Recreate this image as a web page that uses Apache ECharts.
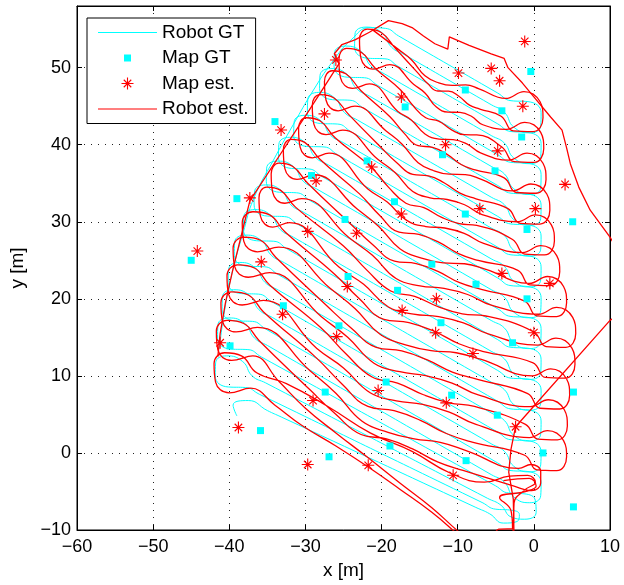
<!DOCTYPE html>
<html><head><meta charset="utf-8">
<script src="https://cdn.jsdelivr.net/npm/echarts@6/dist/echarts.min.js"></script>
<style>html,body{margin:0;padding:0;background:#fff}#c{width:624px;height:585px}</style>
</head><body><div id="c"></div>
<script>
const xTicks = [-60,-50,-40,-30,-20,-10,0,10];
const yTicks = [-10,0,10,20,30,40,50];
const yMax = 58;

const robotGT = [
[-41.3,13.5],[-40.7,18],[-39.6,23.5],[-38.2,28.5],[-36.8,33],[-34.2,38],[-31.6,42.6],[-29,47],[-26.5,50.7],[-24,53.6],[-21.5,55.2],
[-19.5,55.1],[-17.76,54.11],[-4.74,46.7],[-3,45.71],
[-0.77,45.59],[0.95,44.15],[0.9,42.45],[-0.54,41.54],[-2.65,42.29],
[-3.86,44.2],[-5.6,45.19],[-16.96,51.67],[-18.7,52.66],
[-19.94,54.52],[-22.05,55.26],[-23.49,54.35],[-23.54,52.65],[-21.82,51.22],
[-19.56,51.15],[-17.82,50.16],[-4.74,42.7],[-3,41.71],
[-0.77,41.59],[0.95,40.15],[0.9,38.45],[-0.54,37.54],[-2.65,38.29],
[-3.86,40.2],[-5.6,41.19],[-19.66,49.21],[-21.4,50.2],
[-22.64,52.06],[-24.75,52.8],[-26.19,51.89],[-26.24,50.19],[-24.52,48.76],
[-22.26,48.69],[-20.52,47.7],[-4.74,38.7],[-3,37.71],
[-0.77,37.59],[0.95,36.15],[0.9,34.45],[-0.54,33.54],[-2.65,34.29],
[-3.86,36.2],[-5.6,37.19],[-21.56,46.29],[-23.3,47.28],
[-24.54,49.14],[-26.65,49.88],[-28.09,48.97],[-28.14,47.27],[-26.42,45.84],
[-24.16,45.77],[-22.42,44.78],[-4.74,34.7],[-3,33.71],
[-0.77,33.59],[0.95,32.15],[0.9,30.45],[-0.54,29.54],[-2.65,30.29],
[-3.86,32.2],[-5.6,33.19],[-23.16,43.2],[-24.9,44.19],
[-26.14,46.05],[-28.25,46.79],[-29.69,45.88],[-29.74,44.18],[-28.02,42.75],
[-25.76,42.68],[-24.02,41.69],[-4.74,30.7],[-3,29.71],
[-0.77,29.59],[0.95,28.15],[0.9,26.45],[-0.54,25.54],[-2.65,26.29],
[-3.86,28.2],[-5.6,29.19],[-24.96,40.23],[-26.7,41.22],
[-27.94,43.08],[-30.05,43.82],[-31.49,42.91],[-31.54,41.21],[-29.82,39.78],
[-27.56,39.71],[-25.82,38.72],[-4.74,26.7],[-3,25.71],
[-0.77,25.59],[0.95,24.15],[0.9,22.45],[-0.54,21.54],[-2.65,22.29],
[-3.86,24.2],[-5.6,25.19],[-26.96,37.37],[-28.7,38.36],
[-29.94,40.22],[-32.05,40.96],[-33.49,40.05],[-33.54,38.35],[-31.82,36.92],
[-29.56,36.85],[-27.82,35.86],[-4.74,22.7],[-3,21.71],
[-0.77,21.59],[0.95,20.15],[0.9,18.45],[-0.54,17.54],[-2.65,18.29],
[-3.86,20.2],[-5.6,21.19],[-28.56,34.28],[-30.3,35.27],
[-31.54,37.13],[-33.65,37.87],[-35.09,36.96],[-35.14,35.26],[-33.42,33.83],
[-31.16,33.76],[-29.42,32.77],[-4.74,18.7],[-3,17.71],
[-0.77,17.59],[0.95,16.15],[0.9,14.45],[-0.54,13.54],[-2.65,14.29],
[-3.86,16.2],[-5.6,17.19],[-30.16,31.19],[-31.9,32.18],
[-33.14,34.04],[-35.25,34.78],[-36.69,33.87],[-36.74,32.17],[-35.02,30.74],
[-32.76,30.67],[-31.02,29.68],[-4.74,14.7],[-3,13.71],
[-0.77,13.59],[0.95,12.15],[0.9,10.45],[-0.54,9.54],[-2.65,10.29],
[-3.86,12.2],[-5.6,13.19],[-31.56,27.99],[-33.3,28.98],
[-34.54,30.84],[-36.65,31.58],[-38.09,30.67],[-38.14,28.97],[-36.42,27.54],
[-34.16,27.47],[-32.42,26.48],[-4.74,10.7],[-3,9.71],
[-0.77,9.59],[0.95,8.15],[0.9,6.45],[-0.54,5.54],[-2.65,6.29],
[-3.86,8.2],[-5.6,9.19],[-32.76,24.68],[-34.5,25.67],
[-35.74,27.53],[-37.85,28.27],[-39.29,27.36],[-39.34,25.66],[-37.62,24.23],
[-35.36,24.16],[-33.62,23.17],[-4.74,6.7],[-3,5.71],
[-0.77,5.59],[0.95,4.15],[0.9,2.45],[-0.54,1.54],[-2.65,2.29],
[-3.86,4.2],[-5.6,5.19],[-33.56,21.13],[-35.3,22.12],
[-36.54,23.98],[-38.65,24.72],[-40.09,23.81],[-40.14,22.11],[-38.42,20.68],
[-36.16,20.61],[-34.42,19.62],[-4.74,2.7],[-3,1.71],
[-0.77,1.59],[0.95,0.15],[0.9,-1.55],[-0.54,-2.46],[-2.65,-1.71],
[-3.86,0.2],[-5.6,1.19],[-34.36,17.59],[-36.1,18.58],
[-37.34,20.44],[-39.45,21.18],[-40.89,20.27],[-40.94,18.57],[-39.22,17.14],
[-36.96,17.07],[-35.22,16.08],[-4.74,-1.3],[-3,-2.29],
[-0.77,-2.41],[0.95,-3.85],[0.9,-5.55],[-0.54,-6.46],[-2.65,-5.71],
[-3.86,-3.8],[-5.6,-2.81],[-34.96,13.93],[-36.7,14.92],
[-37.94,16.78],[-40.05,17.52],[-41.49,16.61],[-41.54,14.91],[-39.82,13.48],
[-37.56,13.41],[-35.8,12.46],[-5.06,-4.25],[-3.3,-5.2],
[-1.3,-5.3],[0.2,-6.2],[0.3,-7.7],[-1.2,-8.6],[-3.0,-8.3],
[-4.3,-6.8],[-6.08,-5.89],[-35.22,9.09],[-37,10],
[-38.24,11.86],[-40.35,12.6],[-41.79,11.69],[-41.84,9.99],[-40.12,8.56],
[-37.86,8.49],[-36.06,7.62],[-6.8,-6.43],[-5,-7.3],
[-3.2,-7.4],[-1.9,-8.0],[-2.2,-8.9],[-4.0,-9.1],
[-5.8,-7.9],[-7.62,-7.07],[-33.18,4.67],[-35,5.5],
[-37.5,6.8],[-39.5,6.2],[-39,4.8]
];

const robotEstPasses = [
[-21.3,55.0],[-17.8,52.37],[-16.05,51.0],[-14.3,48.94],[-12.5,48.02],[-10.7,47.69],[-8.95,47.77],[-7.2,47.25],[-3.7,46.0],
[-1.3,46.9],[0.8,45.6],[1.2,43.5],[-0.1,41.7],[-2.7,41.8],
[-4.3,43.7],[-7.1,44.62],[-8.45,45.13],[-9.8,46.25],[-11.2,46.96],[-12.6,46.97],[-13.95,47.93],[-15.3,49.38],[-18.1,52.4],
[-20.1,54.6],[-21.9,55.0],[-22.9,53.6],[-22.7,51.2],[-21.1,49.8],
[-18.9,50.4],[-15.8,47.84],[-14.3,46.71],[-12.8,44.88],[-11.25,44.23],[-9.7,44.19],[-8.2,43.69],[-6.7,42.59],[-3.6,42.0],
[-1.2,42.9],[0.9,41.6],[1.3,39.5],[0.0,37.7],[-2.6,37.8],
[-4.2,39.7],[-7.5,41.27],[-9.15,41.3],[-10.8,41.93],[-12.5,43.07],[-14.2,43.5],[-15.85,45.05],[-17.5,47.1],[-20.8,49.9],
[-22.8,52.1],[-24.6,52.5],[-25.6,51.1],[-25.4,48.7],[-23.8,47.3],
[-21.6,47.9],[-17.9,44.35],[-16.1,43.22],[-14.3,41.4],[-12.45,40.73],[-10.6,40.67],[-8.8,40.1],[-7.0,38.93],[-3.3,38.0],
[-0.9,38.9],[1.2,37.6],[1.6,35.5],[0.3,33.7],[-2.3,33.8],
[-3.9,35.7],[-7.7,36.72],[-9.55,37.43],[-11.4,38.75],[-13.3,39.66],[-15.2,39.87],[-17.05,41.5],[-18.9,43.63],[-22.7,47.0],
[-24.7,49.2],[-26.5,49.6],[-27.5,48.2],[-27.3,45.8],[-25.7,44.4],
[-23.5,45.0],[-19.4,41.78],[-17.3,40.07],[-15.2,37.66],[-13.15,36.62],[-11.1,36.17],[-9.0,36.13],[-6.9,35.49],[-2.8,34.0],
[-0.4,34.9],[1.7,33.6],[2.1,31.5],[0.8,29.7],[-1.8,29.8],
[-3.4,31.7],[-7.6,32.98],[-9.7,33.72],[-11.8,35.07],[-13.85,35.96],[-15.9,36.15],[-18.0,37.66],[-20.1,39.67],[-24.3,43.9],
[-26.3,46.1],[-28.1,46.5],[-29.1,45.1],[-28.9,42.7],[-27.3,41.3],
[-25.1,41.9],[-20.5,38.11],[-18.2,36.37],[-15.9,33.93],[-13.65,33.11],[-11.4,32.89],[-9.1,32.21],[-6.8,30.94],[-2.2,30.0],
[0.2,30.9],[2.3,29.6],[2.7,27.5],[1.4,25.7],[-1.2,25.8],
[-2.8,27.7],[-7.5,29.53],[-9.8,29.75],[-12.1,30.57],[-14.45,31.83],[-16.8,32.4],[-19.1,34.5],[-21.4,37.1],[-26.1,40.9],
[-28.1,43.1],[-29.9,43.5],[-30.9,42.1],[-30.7,39.7],[-29.1,38.3],
[-26.9,38.9],[-21.8,34.24],[-19.25,32.56],[-16.7,30.18],[-14.2,29.38],[-11.7,29.19],[-9.15,28.49],[-6.6,27.19],[-1.5,26.0],
[0.9,26.9],[3.0,25.6],[3.4,23.5],[2.1,21.7],[-0.5,21.8],
[-2.1,23.7],[-7.3,24.98],[-9.9,25.87],[-12.5,27.36],[-15.1,28.35],[-17.7,28.64],[-20.3,30.88],[-22.9,33.62],[-28.1,38.1],
[-30.1,40.3],[-31.9,40.7],[-32.9,39.3],[-32.7,36.9],[-31.1,35.5],
[-28.9,36.1],[-23.2,31.65],[-20.4,29.42],[-17.6,26.5],[-14.75,25.28],[-11.9,24.67],[-9.1,24.55],[-6.3,23.83],[-0.6,22.0],
[1.8,22.9],[3.9,21.6],[4.3,19.5],[3.0,17.7],[0.4,17.8],
[-1.2,19.7],[-6.9,21.23],[-9.75,22.09],[-12.6,23.56],[-15.45,24.57],[-18.3,24.89],[-21.15,27.02],[-24.0,29.64],[-29.7,35.0],
[-31.7,37.2],[-33.5,37.6],[-34.5,36.2],[-34.3,33.8],[-32.7,32.4],
[-30.5,33.0],[-24.3,27.96],[-21.2,25.65],[-18.1,22.63],[-14.95,21.69],[-11.8,21.35],[-8.7,20.56],[-5.6,19.18],[0.6,18.0],
[3.0,18.9],[5.1,17.6],[5.5,15.5],[4.2,13.7],[1.6,13.8],
[0.0,15.7],[-6.3,17.77],[-9.4,18.06],[-12.5,18.95],[-15.65,20.33],[-18.8,21.02],[-21.9,23.69],[-25.0,26.86],[-31.3,31.9],
[-33.3,34.1],[-35.1,34.5],[-36.1,33.1],[-35.9,30.7],[-34.3,29.3],
[-32.1,29.9],[-25.6,24.12],[-22.35,21.88],[-19.1,18.94],[-15.8,18.02],[-12.5,17.69],[-9.25,16.87],[-6.0,15.45],[0.5,14.0],
[2.9,14.9],[5.0,13.6],[5.4,11.5],[4.1,9.7],[1.5,9.8],
[-0.1,11.7],[-6.6,13.15],[-9.85,14.17],[-13.1,15.79],[-16.4,16.92],[-19.7,17.34],[-22.95,20.03],[-26.2,23.22],[-32.7,28.7],
[-34.7,30.9],[-36.9,31.3],[-38.3,29.9],[-38.1,27.5],[-36.3,26.1],
[-33.5,26.7],[-26.8,21.4],[-23.5,18.75],[-20.2,15.4],[-16.85,14.03],[-13.5,13.27],[-10.2,13.0],[-6.9,12.13],[-0.2,10.0],
[2.2,10.9],[4.3,9.6],[4.7,7.5],[3.4,5.7],[0.8,5.8],
[-0.8,7.7],[-7.4,9.54],[-10.7,10.5],[-14.0,12.07],[-17.35,13.24],[-20.7,13.71],[-24.0,16.21],[-27.3,19.2],[-33.9,25.4],
[-35.9,27.6],[-38.1,28.0],[-39.5,26.6],[-39.3,24.2],[-37.5,22.8],
[-34.7,23.4],[-27.9,17.67],[-24.45,15.01],[-21.0,11.65],[-17.6,10.54],[-14.2,10.03],[-10.75,9.07],[-7.3,7.52],[-0.5,6.0],
[1.9,6.9],[4.0,5.6],[4.4,3.5],[3.1,1.7],[0.5,1.8],
[-1.1,3.7],[-7.8,6.03],[-11.15,6.49],[-14.5,7.55],[-17.9,9.07],[-21.3,9.88],[-24.65,12.83],[-28.0,16.29],[-34.7,21.8],
[-36.7,24.0],[-38.9,24.4],[-40.3,23.0],[-40.1,20.6],[-38.3,19.2],
[-35.5,19.8],[-28.5,13.55],[-25.0,11.03],[-21.5,7.81],[-18.05,6.76],[-14.6,6.31],[-11.1,5.3],[-7.6,3.7],[-0.6,2.0],
[1.8,2.9],[3.9,1.6],[4.3,-0.5],[3.0,-2.3],[0.4,-2.2],
[-1.2,-0.3],[-8.1,1.41],[-11.5,2.52],[-14.9,4.23],[-18.35,5.48],[-21.8,6.04],[-25.2,8.95],[-28.6,12.37],[-35.5,18.3],
[-37.5,20.5],[-39.7,20.9],[-41.1,19.5],[-40.9,17.1],[-39.1,15.7],
[-36.3,16.3],[-29.4,10.67],[-26.0,7.75],[-22.6,4.14],[-19.15,2.68],[-15.7,1.83],[-12.3,1.37],[-8.9,0.31],[-2.0,-2.0],
[-0.4,-1.5],[0.9,-2.4],[0.9,-3.9],[-0.3,-4.9],
[-2.6,-4.3],[-9.3,-2.27],[-12.65,-1.16],[-16.0,0.56],[-19.35,1.82],[-22.7,2.39],[-26.05,5.04],[-29.4,8.19],[-36.1,14.6],
[-38.1,16.8],[-40.3,17.2],[-41.7,15.8],[-41.5,13.4],[-39.7,12.0],
[-36.9,12.6],[-33.5,9.3],[-30.0,5.8],[-26.0,2.6],[-21.8,-0.6],[-17.6,-3.9],[-13.4,-7.1],[-9.9,-10.2],[-7.5,-12.0],
[-3.5,-12.0],[-2.7,-9.5],[-2.6,-6.5],[-1.2,-4.8],[0.2,-3.8],[-0.8,-2.9],[-3.2,-3.0],[-6.5,-3.8],
[-11.0,-2.6],[-16.0,0.2],[-21.5,2.6],[-27.0,6.0],[-32.5,9.0],[-36.4,10.4],
[-38.4,12.6],[-40.6,13.0],[-42.0,11.6],[-41.8,9.2],[-40.0,7.8],
[-37.2,8.4],[-34.0,6.2],[-30.5,3.6],[-26.0,0.9],[-21.8,-1.8],[-17.6,-4.7],[-13.4,-7.7],[-10.2,-10.4],[-8.5,-12.0],
[-5.5,-11.0],[-4.6,-9.9],[-2.8,-9.8],[-3.0,-7.5],[-4.5,-5.8],[-1.0,-5.0],[0.3,-4.3],[-0.6,-3.3],[-4.0,-3.6]
];

const robotEstOuter = [
[-41.5,12.5],[-41.2,15.5],[-40.5,19.5],[-39.6,23.5],[-38.6,27.5],[-37.3,32.7],[-33.4,38.6],[-29.5,44.5],[-25.6,50.5],
[-26.2,51.8],[-25.2,53.0],[-23.5,53.6],[-21.6,54.6],[-19.1,56.1],[-17.3,55.7],[-16.0,55.2],[-14.5,54.1],[-13.0,53.1],[-11.3,52.4],
[-11.1,54.0],[-8.5,52.9],[-5.6,51.8],[-3.9,51.2],[-3.4,50.0],[-1.5,48.0],[0.0,46.2],[2.2,43.6],[3.7,41.9],[4.3,39.6],
[4.8,37.5],[5.9,34.5],[7.4,31.5],[10.0,28.0],[12.5,24.0],[13.5,19.5],[10.0,17.2],[-2.4,3.4],[-3.0,0.5],[-3.3,-2.5],
[-2.7,-6.0],[-2.6,-11.0]
];

const mapGT = [[-34,43],[-0.4,49.5],[-39,33],[-45,25],[-29.2,36.0],[-21.9,37.9],[-16.9,44.9],[-9.0,47.1],[-4.2,44.4],[-12.0,38.7],[-1.6,41.0],[-5.1,36.6],[-18.3,32.6],[-13.4,24.5],[-24.8,30.3],[-24.4,22.9],[-17.9,21.1],[-32.9,19.1],[-25.6,16.5],[-39.9,13.9],[-9.0,31.0],[5.1,30.0],[-0.9,29.0],[-7.6,21.9],[-0.9,20.0],[-2.8,14.3],[-27.4,7.9],[-19.4,9.2],[-35.9,2.9],[-26.9,-0.5],[-18.9,0.9],[-10.8,7.5],[-4.8,4.9],[5.2,7.9],[-8.9,-1.0],[1.2,0.0],[5.2,-7.0],[-12.2,16.9]];

const mapEst = [[-26.0,51.0],[-33.2,41.9],[-27.5,44.0],[-17.4,46.2],[-21.3,37.1],[-28.6,35.3],[-37.3,33.1],[-1.2,53.4],[-9.9,49.3],[-5.6,49.9],[-4.5,48.3],[-1.45,45.0],[-11.6,40.0],[-4.75,39.2],[4.1,34.85],[-29.7,28.75],[-23.3,28.5],[-17.4,31.0],[-44.2,26.2],[-35.8,24.8],[-24.5,21.6],[-33.0,18.0],[-17.3,18.5],[-25.9,15.1],[-41.2,14.3],[-7.1,31.7],[0.2,31.7],[-4.2,23.3],[2.1,22.0],[-12.8,20.0],[0.0,15.6],[-12.9,15.6],[-8.0,12.9],[-29.0,6.8],[-20.45,8.1],[-38.8,3.3],[-29.7,-1.5],[-21.75,-1.6],[-11.5,6.5],[-2.4,3.4],[-10.6,-2.9]];

const FONT = "'Liberation Sans', Arial, Helvetica, sans-serif";
const STAR = 'M10.9,0L13.1,0L13.1,24L10.9,24ZM0,10.9L24,10.9L24,13.1L0,13.1ZM3.72,5.28L5.28,3.72L20.28,18.72L18.72,20.28ZM18.72,3.72L20.28,5.28L5.28,20.28L3.72,18.72Z';
const starSymbol = 'path://' + STAR;
const starLegend = 'path://M-2,-2M26,26' + STAR;
const squareLegend = 'path://M0,0M14,14M3.5,3.5L10.5,3.5L10.5,10.5L3.5,10.5Z';
const lineLegend = 'path://M0,0M59,14M0,6.5L59,6.5L59,7.6L0,7.6Z';
const fmt = v => (v < 0 ? '\u2212' + Math.abs(v) : String(v));
const xStep = xTicks[1] - xTicks[0];
const yStep = yTicks[1] - yTicks[0];

const tickStyle = {show: true, inside: true, length: 5, lineStyle: {color: '#000', width: 1}};
const gridLine = {show: true, lineStyle: {color: '#222', width: 1, type: [1, 6]}};
const axLine = {show: true, onZero: false, lineStyle: {color: '#000', width: 1}};

const chart = echarts.init(document.getElementById('c'), null, {renderer: 'canvas'});
chart.setOption({
  animation: false,
  backgroundColor: '#fff',
  grid: {left: 72, right: 14, top: 6, bottom: 55, show: true, borderColor: '#000', borderWidth: 1, backgroundColor: 'transparent'},
  xAxis: [
    {type: 'value', min: xTicks[0], max: xTicks[xTicks.length - 1], interval: xStep, position: 'bottom',
     axisLine: axLine, axisTick: tickStyle, splitLine: gridLine,
     axisLabel: {formatter: fmt, fontSize: 18, color: '#000', fontFamily: FONT, margin: 8},
     name: 'x [m]', nameLocation: 'middle', nameGap: 29, nameTextStyle: {fontSize: 19, color: '#000', fontFamily: FONT}},
    {type: 'value', min: xTicks[0], max: xTicks[xTicks.length - 1], interval: xStep, position: 'top',
     axisLine: axLine, axisTick: tickStyle, splitLine: {show: false}, axisLabel: {show: false}}
  ],
  yAxis: [
    {type: 'value', min: yTicks[0], max: yMax, interval: yStep, position: 'left',
     axisLine: axLine, axisTick: tickStyle, splitLine: gridLine,
     axisLabel: {formatter: fmt, fontSize: 18, color: '#000', fontFamily: FONT, margin: 6, showMaxLabel: false},
     name: 'y [m]', nameLocation: 'middle', nameGap: 50, nameTextStyle: {fontSize: 19, color: '#000', fontFamily: FONT}},
    {type: 'value', min: yTicks[0], max: yMax, interval: yStep, position: 'right',
     axisLine: axLine, axisTick: tickStyle, splitLine: {show: false}, axisLabel: {show: false}}
  ],
  legend: {
    left: 87, top: 18, orient: 'vertical', selectedMode: false,
    backgroundColor: '#fff', borderColor: '#000', borderWidth: 1, borderRadius: 0,
    padding: [5, 7, 5, 11], itemWidth: 59, itemHeight: 14, itemGap: 6.5,
    textStyle: {fontSize: 19, fontFamily: FONT, color: '#000', lineHeight: 19},
    data: [{name: 'Robot GT', icon: lineLegend}, {name: 'Map GT', icon: squareLegend},
           {name: 'Map est.', icon: starLegend}, {name: 'Robot est.', icon: lineLegend}]
  },
  series: [
    {name: 'Robot GT', type: 'line', data: robotGT, smooth: 0.5, symbol: 'none', showSymbol: false,
     lineStyle: {color: '#00ffff', width: 1}, itemStyle: {color: '#00ffff'}, clip: true, z: 2},
    {name: 'Robot est.', type: 'line', data: robotEstPasses, smooth: 0.45, symbol: 'none', showSymbol: false,
     lineStyle: {color: '#ff0000', width: 1.3}, itemStyle: {color: '#ff0000'}, clip: true, z: 3},
    {name: 'Robot est.', type: 'line', data: robotEstOuter, smooth: false, symbol: 'none', showSymbol: false,
     lineStyle: {color: '#ff0000', width: 1.3}, itemStyle: {color: '#ff0000'}, clip: true, z: 3},
    {name: 'Map GT', type: 'scatter', data: mapGT, symbol: 'rect', symbolSize: 7, symbolKeepAspect: true,
     itemStyle: {color: '#00ffff', opacity: 1}, z: 4},
    {name: 'Map est.', type: 'scatter', data: mapEst, symbol: starSymbol, symbolSize: 12, symbolKeepAspect: true,
     itemStyle: {color: '#ff0000', opacity: 1}, z: 5}
  ]
});
</script></body></html>
